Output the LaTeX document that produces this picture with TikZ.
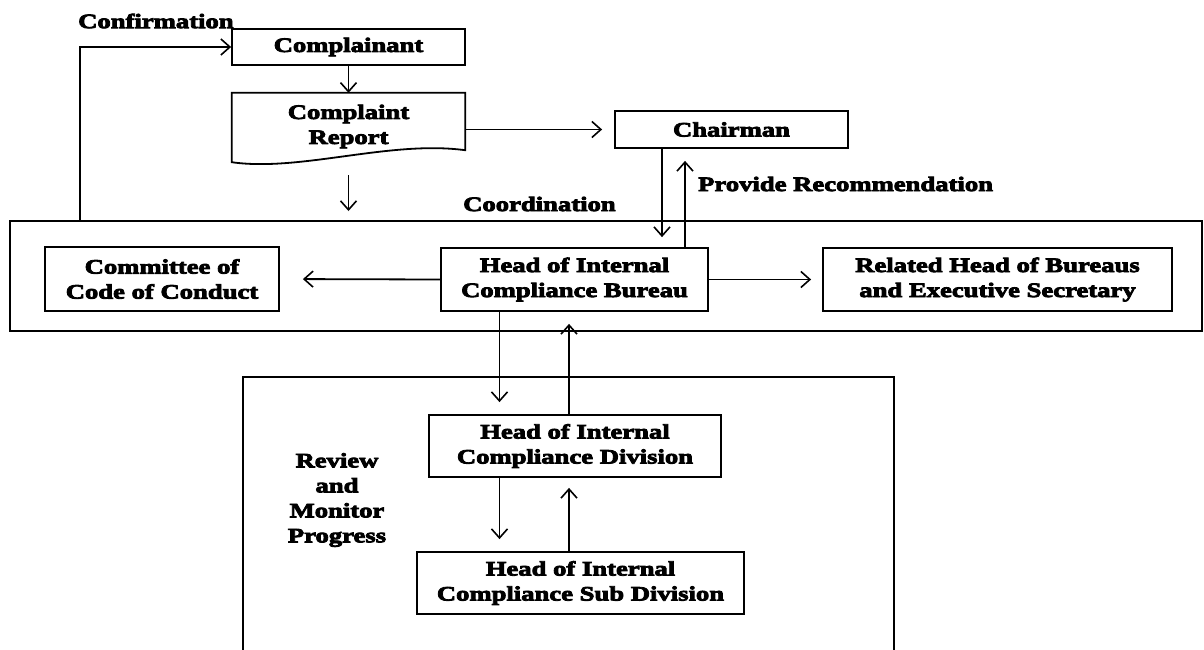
\documentclass[tikz,border=0pt]{standalone}
\usepackage{fontspec}
\setmainfont{Liberation Serif}[FakeStretch=1.3, FakeBold=4]
\usetikzlibrary{arrows.meta}
\begin{document}
\begin{tikzpicture}[x=1pt,y=-1pt,
  every node/.style={font=\bfseries\fontsize{20.5}{25}\selectfont, align=center, inner sep=0pt},
  box/.style={draw, line width=1.8pt},
  frame/.style={draw, line width=2pt},
  arr/.style={line width=1.8pt, -{Straight Barb[length=9pt,width=16pt,line width=1.6pt]}},
  lbl/.style={anchor=west}]
\useasboundingbox[fill=white] (0,0) rectangle (1204,649);

% grouping frames
\node[frame, minimum width=1192pt, minimum height=110pt] (outer) at (606,276) {};
\node[frame, minimum width=651pt, minimum height=290pt] (review) at (568.5,522) {};

% top of the flow
\node[box, minimum width=233pt, minimum height=36pt] (comp) at (348.5,47) {Complainant};
\node[minimum width=233pt, minimum height=67pt] (rep) at (348.5,126.5) {Complaint\\Report};
\draw[line width=1.8pt] (rep.north west) -- (rep.north east) -- ([yshift=10pt]rep.south east)
  .. controls (390,140) and (300,172) .. ([yshift=-2pt]rep.south west) -- cycle;
\node[box, minimum width=233pt, minimum height=37pt] (chair) at (731.5,129.5) {Chairman};

% coordination row
\node[box, minimum width=234pt, minimum height=64pt] (com) at (162,279) {Committee of\\Code of Conduct};
\node[box, minimum width=267pt, minimum height=63pt] (icb) at (574.5,279.5) {Head of Internal\\Compliance Bureau};
\node[box, minimum width=349pt, minimum height=63pt] (rel) at (997.5,279.5) {Related Head of Bureaus\\and Executive Secretary};

% review row
\node[box, minimum width=292pt, minimum height=62pt] (icd) at (575,446) {Head of Internal\\Compliance Division};
\node[box, minimum width=327pt, minimum height=62pt] (sub) at (580.5,583) {Head of Internal\\Compliance Sub Division};

% labels
\node[lbl] (tconf) at (78,21) {Confirmation};
\node[lbl] (tcoord) at (463,204) {Coordination};
\node[lbl] (tprov) at (698,184) {Provide Recommendation};
\node (trev) at (337,500) {Review\\and\\Monitor\\Progress};

% vertical lanes for connectors
\coordinate (xa) at (662,0);
\coordinate (xb) at (685,0);
\coordinate (xc) at (499.5,0);
\coordinate (xd) at (569,0);
\coordinate (xe) at (80,0);

% connectors
\draw[arr] (comp.south) -- (rep.north);
\draw[arr, shorten <=15pt, shorten >=9pt] (rep.south) -- (rep.south |- outer.north);
\draw[arr] (outer.north -| xe) |- (comp.west);
\draw[arr, shorten >=12pt] (rep.east |- chair.west) -- (chair.west);
\draw[arr, shorten >=10pt] (chair.south -| xa) -- (icb.north -| xa);
\draw[arr, shorten >=12pt] (icb.north -| xb) -- (chair.south -| xb);
\draw[arr, shorten >=23pt] (icb.west) -- (com.east);
\draw[arr, shorten >=11pt] (icb.east) -- (rel.west);
\draw[arr, shorten >=12pt] (icb.south -| xc) -- (icd.north -| xc);
\draw[arr, shorten >=12pt] (icd.north -| xd) -- (icb.south -| xd);
\draw[arr, shorten >=12pt] (icd.south -| xc) -- (sub.north -| xc);
\draw[arr, shorten >=10pt] (sub.north -| xd) -- (icd.south -| xd);
\end{tikzpicture}
\end{document}
